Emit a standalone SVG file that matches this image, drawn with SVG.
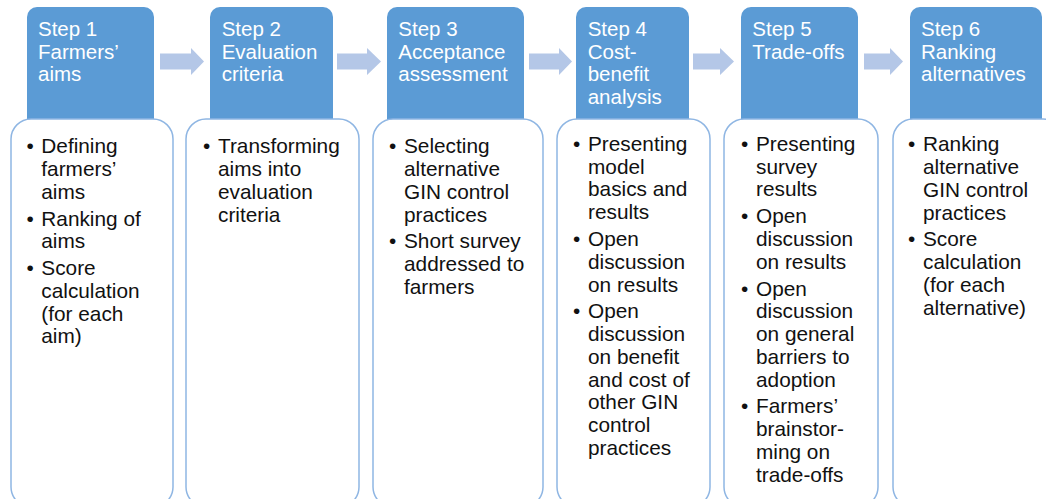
<svg xmlns="http://www.w3.org/2000/svg" width="1046" height="499" viewBox="0 0 1046 499">
<style>
.hdr{fill:#5B9BD5}
.box{fill:#FFFFFF;stroke:#8FB6E3;stroke-width:1.5}
.ht{font-family:"Liberation Sans",Arial,sans-serif;font-size:20.5px;fill:#FFFFFF}
.bt{font-family:"Liberation Sans",Arial,sans-serif;font-size:20.8px;fill:#111111}
.arr{fill:#B4C7E7}
</style>
<rect x="0" y="0" width="1046" height="499" fill="#FFFFFF"/>
<g id="connectors">
<polygon class="arr" points="160,53.5 191,53.5 191,48 204,61.5 191,75 191,69.5 160,69.5"/>
<polygon class="arr" points="337,53.5 367,53.5 367,48 381,61.5 367,75 367,69.5 337,69.5"/>
<polygon class="arr" points="529,53.5 559,53.5 559,48 572,61.5 559,75 559,69.5 529,69.5"/>
<polygon class="arr" points="693,53.5 720,53.5 720,48 734,61.5 720,75 720,69.5 693,69.5"/>
<polygon class="arr" points="864,53.5 890,53.5 890,48 903,61.5 890,75 890,69.5 864,69.5"/>
</g>
<g id="step1">
<rect class="hdr" x="27" y="7" width="127" height="130" rx="10"/>
<rect class="box" x="11" y="119" width="162" height="388" rx="20"/>
<text class="ht"><tspan x="38" y="36">Step 1</tspan><tspan x="38" y="58.5">Farmers’</tspan><tspan x="38" y="81">aims</tspan></text>
<text class="bt"><tspan x="26.5" y="153.3">•</tspan><tspan x="26.5" y="225.6">•</tspan><tspan x="26.5" y="275.2">•</tspan></text>
<text class="bt"><tspan x="41.3" y="153.3">Defining</tspan><tspan x="41.3" y="176.1">farmers’</tspan><tspan x="41.3" y="198.8">aims</tspan><tspan x="41.3" y="225.6">Ranking of</tspan><tspan x="41.3" y="248.4">aims</tspan><tspan x="41.3" y="275.2">Score</tspan><tspan x="41.3" y="297.9">calculation</tspan><tspan x="41.3" y="320.7">(for each</tspan><tspan x="41.3" y="343.4">aim)</tspan></text>
</g>
<g id="step2">
<rect class="hdr" x="210" y="7" width="123" height="130" rx="10"/>
<rect class="box" x="186" y="119" width="173" height="388" rx="20"/>
<text class="ht"><tspan x="221.7" y="36">Step 2</tspan><tspan x="221.7" y="58.5">Evaluation</tspan><tspan x="221.7" y="81">criteria</tspan></text>
<text class="bt"><tspan x="203" y="153.3">•</tspan></text>
<text class="bt"><tspan x="218" y="153.3">Transforming</tspan><tspan x="218" y="176.1">aims into</tspan><tspan x="218" y="198.8">evaluation</tspan><tspan x="218" y="221.6">criteria</tspan></text>
</g>
<g id="step3">
<rect class="hdr" x="387" y="7" width="137" height="130" rx="10"/>
<rect class="box" x="373" y="119" width="170" height="388" rx="20"/>
<text class="ht"><tspan x="398.3" y="36">Step 3</tspan><tspan x="398.3" y="58.5">Acceptance</tspan><tspan x="398.3" y="81">assessment</tspan></text>
<text class="bt"><tspan x="389" y="153.3">•</tspan><tspan x="389" y="248.4">•</tspan></text>
<text class="bt"><tspan x="404" y="153.3">Selecting</tspan><tspan x="404" y="176.1">alternative</tspan><tspan x="404" y="198.8">GIN control</tspan><tspan x="404" y="221.6">practices</tspan><tspan x="404" y="248.4">Short survey</tspan><tspan x="404" y="271.1">addressed to</tspan><tspan x="404" y="293.9">farmers</tspan></text>
</g>
<g id="step4">
<rect class="hdr" x="576" y="7" width="113" height="130" rx="10"/>
<rect class="box" x="557" y="119" width="153" height="388" rx="20"/>
<text class="ht"><tspan x="587.7" y="36">Step 4</tspan><tspan x="587.7" y="58.5">Cost-</tspan><tspan x="587.7" y="81">benefit</tspan><tspan x="587.7" y="103.5">analysis</tspan></text>
<text class="bt"><tspan x="573" y="150.9">•</tspan><tspan x="573" y="246">•</tspan><tspan x="573" y="318.3">•</tspan></text>
<text class="bt"><tspan x="588" y="150.9">Presenting</tspan><tspan x="588" y="173.7">model</tspan><tspan x="588" y="196.4">basics and</tspan><tspan x="588" y="219.2">results</tspan><tspan x="588" y="246">Open</tspan><tspan x="588" y="268.7">discussion</tspan><tspan x="588" y="291.5">on results</tspan><tspan x="588" y="318.3">Open</tspan><tspan x="588" y="341">discussion</tspan><tspan x="588" y="363.8">on benefit</tspan><tspan x="588" y="386.5">and cost of</tspan><tspan x="588" y="409.3">other GIN</tspan><tspan x="588" y="432">control</tspan><tspan x="588" y="454.8">practices</tspan></text>
</g>
<g id="step5">
<rect class="hdr" x="741" y="7" width="117" height="130" rx="10"/>
<rect class="box" x="724" y="119" width="154" height="388" rx="20"/>
<text class="ht"><tspan x="752.3" y="36">Step 5</tspan><tspan x="752.3" y="58.5">Trade-offs</tspan></text>
<text class="bt"><tspan x="741" y="150.9">•</tspan><tspan x="741" y="223.2">•</tspan><tspan x="741" y="295.5">•</tspan><tspan x="741" y="413.3">•</tspan></text>
<text class="bt"><tspan x="756" y="150.9">Presenting</tspan><tspan x="756" y="173.7">survey</tspan><tspan x="756" y="196.4">results</tspan><tspan x="756" y="223.2">Open</tspan><tspan x="756" y="246">discussion</tspan><tspan x="756" y="268.7">on results</tspan><tspan x="756" y="295.5">Open</tspan><tspan x="756" y="318.3">discussion</tspan><tspan x="756" y="341">on general</tspan><tspan x="756" y="363.8">barriers to</tspan><tspan x="756" y="386.5">adoption</tspan><tspan x="756" y="413.3">Farmers’</tspan><tspan x="756" y="436.1">brainstor-</tspan><tspan x="756" y="458.8">ming on</tspan><tspan x="756" y="481.6">trade-offs</tspan></text>
</g>
<g id="step6">
<rect class="hdr" x="910" y="7" width="132" height="130" rx="10"/>
<rect class="box" x="893" y="119" width="170" height="388" rx="20"/>
<text class="ht"><tspan x="921" y="36">Step 6</tspan><tspan x="921" y="58.5">Ranking</tspan><tspan x="921" y="81">alternatives</tspan></text>
<text class="bt"><tspan x="908" y="151.2">•</tspan><tspan x="908" y="246.3">•</tspan></text>
<text class="bt"><tspan x="923" y="151.2">Ranking</tspan><tspan x="923" y="174">alternative</tspan><tspan x="923" y="196.7">GIN control</tspan><tspan x="923" y="219.5">practices</tspan><tspan x="923" y="246.3">Score</tspan><tspan x="923" y="269">calculation</tspan><tspan x="923" y="291.8">(for each</tspan><tspan x="923" y="314.5">alternative)</tspan></text>
</g>
</svg>
